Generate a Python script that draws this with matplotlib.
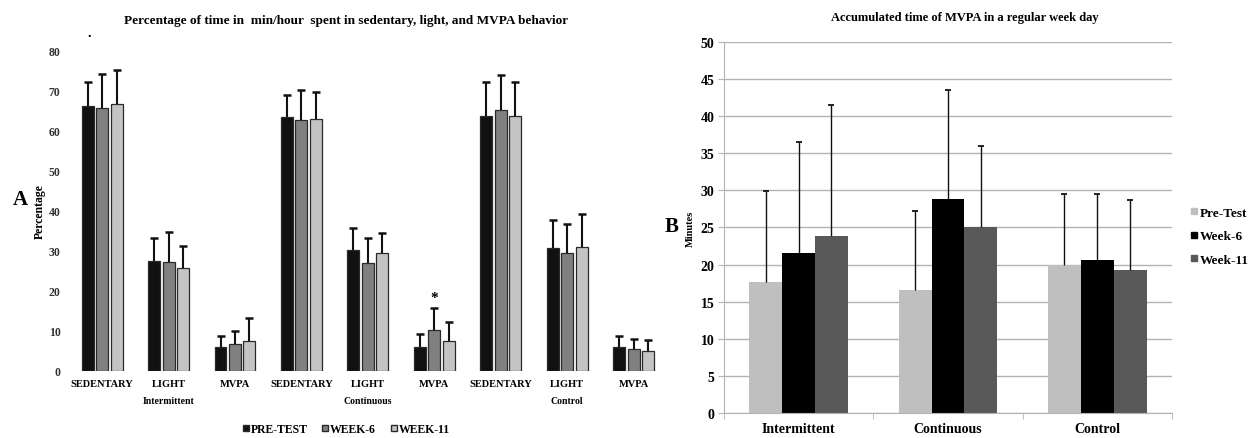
import numpy as np
import matplotlib
matplotlib.use("Agg")
import matplotlib.pyplot as plt
from matplotlib.lines import Line2D

plt.rcParams['font.family'] = ['Liberation Serif', 'DejaVu Serif']
plt.rcParams['font.weight'] = 'bold'
plt.rcParams['axes.titleweight'] = 'bold'
plt.rcParams['axes.labelweight'] = 'bold'

# Panel A data: percentage of time (mean and SD)
kategori = ["SEDENTARY", "LIGHT", "MVPA"] * 3
grup = ["Intermittent", "Continuous", "Control"]
pre_a = [66.2, 27.5, 6.0, 63.5, 30.1, 6.0, 63.7, 30.6, 5.9]
pre_a_sd = [6.0, 5.8, 2.6, 5.5, 5.5, 3.3, 8.6, 7.0, 2.7]
w6_a = [65.8, 27.3, 6.6, 62.6, 26.9, 10.3, 65.2, 29.4, 5.4]
w6_a_sd = [8.5, 7.5, 3.4, 7.5, 6.2, 5.5, 8.7, 7.4, 2.6]
w11_a = [66.7, 25.7, 7.5, 63.0, 29.4, 7.5, 63.8, 31.0, 5.0]
w11_a_sd = [8.6, 5.6, 5.8, 6.7, 5.0, 4.6, 8.5, 8.1, 2.6]

# Panel B data: minutes of MVPA
grup_b = ["Intermittent", "Continuous", "Control"]
pre_b = [17.6, 16.6, 20.0]
pre_b_sd = [12.3, 10.6, 9.5]
w6_b = [21.6, 28.9, 20.6]
w6_b_sd = [14.9, 14.6, 8.9]
w11_b = [23.8, 25.0, 19.3]
w11_b_sd = [17.7, 11.0, 9.4]


def error_atas(ax, pos, val, sd, lw, cap):
    # error bar hanya ke atas, tanpa cap di bawah
    val = np.asarray(val)
    top = val + np.asarray(sd)
    ax.vlines(pos, val, top, color="#111111", linewidth=lw, zorder=3)
    ax.plot(pos, top, linestyle="none", marker="_", markersize=cap,
            markeredgewidth=lw + 0.3, color="#111111", zorder=3)


fig = plt.figure(figsize=(12.58, 4.39), dpi=100)

# ---------------- Panel A ----------------
ax1 = fig.add_axes([0.0548, 0.153, 0.4752, 0.729])
x = np.arange(len(kategori))
seri_a = [(pre_a, pre_a_sd, "#111111"), (w6_a, w6_a_sd, "#808080"), (w11_a, w11_a_sd, "#c4c4c4")]
for i, (val, sd, warna) in enumerate(seri_a):
    pos = x + (i - 1) * 0.218
    ax1.bar(pos, val, width=0.18, color=warna, edgecolor="#2a2a2a", linewidth=0.9, zorder=2)
    error_atas(ax1, pos, val, sd, 1.5, 6)
ax1.text(x[5], w6_a[5] + w6_a_sd[5] + 1.0, "*", ha="center", va="bottom", fontsize=11)
ax1.set_xlim(-0.5, 8.5)
ax1.set_ylim(0, 80)
ax1.set_yticks(range(0, 81, 10))
ax1.tick_params(axis="y", length=0, labelsize=8.5, pad=6, labelcolor="#333333")
ax1.set_xticks(x)
ax1.set_xticklabels(kategori, fontsize=7.5)
ax1.tick_params(axis="x", length=0, pad=6)
for s in ax1.spines.values():
    s.set_visible(False)
for j, g in enumerate(grup):
    ax1.text(x[3 * j + 1], -7.3, g, ha="center", va="center", fontsize=7)
ax1.set_ylabel("Percentage", fontsize=8.5, labelpad=2)
fig.text(0.275, 0.952, "Percentage of time in  min/hour  spent in sedentary, light, and MVPA behavior",
         fontsize=9.5, ha="center", va="center")
fig.text(0.071, 0.915, ".", fontsize=10, ha="center")
fig.text(0.016, 0.545, "A", fontsize=15, ha="center", va="center")

h_a = [Line2D([], [], marker="s", linestyle="none", markersize=5, markerfacecolor=c,
              markeredgecolor="#2a2a2a") for _, _, c in seri_a]
fig.legend(h_a, ["PRE-TEST", "WEEK-6", "WEEK-11"], loc="center", ncol=3,
           bbox_to_anchor=(0.275, 0.021), frameon=False, fontsize=8.5,
           handlelength=0.6, handletextpad=0.1, columnspacing=1.2)

# ---------------- Panel B ----------------
ax2 = fig.add_axes([0.5755, 0.0563, 0.3561, 0.8464])
xb = np.arange(len(grup_b))
seri_b = [(pre_b, pre_b_sd, "#bfbfbf", "Pre-Test"), (w6_b, w6_b_sd, "#000000", "Week-6"),
          (w11_b, w11_b_sd, "#595959", "Week-11")]
for i, (val, sd, warna, nama) in enumerate(seri_b):
    pos = xb + (i - 1) * 0.22
    ax2.bar(pos, val, width=0.22, color=warna, label=nama, zorder=2)
    error_atas(ax2, pos, val, sd, 1.0, 4)
ax2.set_xlim(-0.5, 2.5)
ax2.set_ylim(0, 50)
ax2.set_yticks(range(0, 51, 5))
ax2.grid(axis="y", color="#b3b3b3", linewidth=1.0, zorder=0)
ax2.tick_params(axis="y", length=4, color="#b3b3b3", labelsize=10, pad=3)
ax2.set_xticks(xb)
ax2.set_xticklabels(grup_b, fontsize=10)
ax2.set_xticks([-0.5, 0.5, 1.5, 2.5], minor=True)
ax2.tick_params(axis="x", which="major", length=0, pad=6)
ax2.tick_params(axis="x", which="minor", length=4, color="#b3b3b3")
for k in ["top", "right"]:
    ax2.spines[k].set_visible(False)
for k in ["left", "bottom"]:
    ax2.spines[k].set_color("#b3b3b3")
ax2.set_ylabel("Minutes", fontsize=7.5, labelpad=4)
fig.text(0.767, 0.958, "Accumulated time of MVPA in a regular week day",
         fontsize=9, ha="center", va="center")
fig.text(0.534, 0.483, "B", fontsize=15, ha="center", va="center")
h_b = [Line2D([], [], marker="s", linestyle="none", markersize=5, markerfacecolor=c,
              markeredgecolor=c) for _, _, c, _ in seri_b]
fig.legend(h_b, [n for _, _, _, n in seri_b], loc="center left",
           bbox_to_anchor=(0.937, 0.46), frameon=False, fontsize=9.5,
           handlelength=0.5, handletextpad=0.2, labelspacing=0.85)

fig.savefig("out.png", dpi=100)
